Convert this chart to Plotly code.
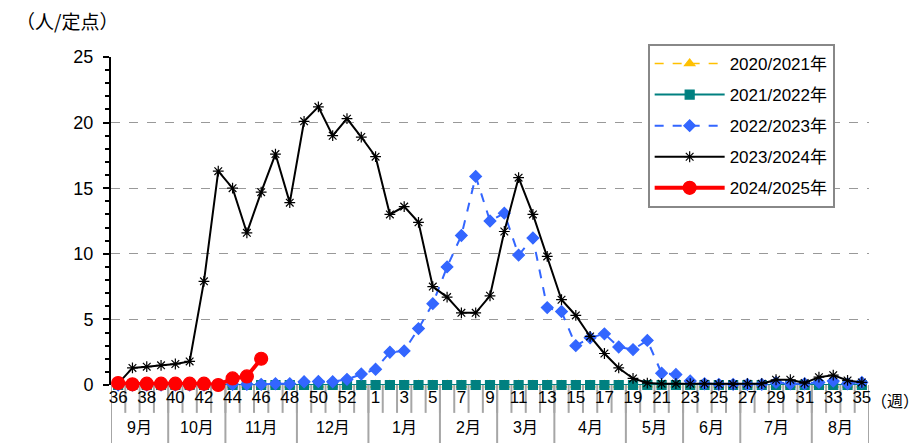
import plotly.graph_objects as go

weeks = [str(w) for w in list(range(36, 54)) + list(range(1, 36))]

s2020 = [0.0] * 53
s2021 = [0.0] * 53
s2022 = [0, 0, 0, 0, 0, 0, 0, 0, 0.05, 0.05, 0.05, 0.1, 0.1, 0.25, 0.27, 0.25, 0.43, 0.84,
         1.2, 2.5, 2.6, 4.3, 6.2, 9.0, 11.4, 15.9, 12.5, 13.1, 9.9, 11.2, 5.9, 5.6, 3.0, 3.6,
         3.9, 2.9, 2.7, 3.4, 0.9, 0.8, 0.3, 0.1, 0.05, 0.05, 0.05, 0.05, 0.2, 0.1, 0.1, 0.2,
         0.3, 0.1, 0.2]
s2023 = [0.1, 1.3, 1.4, 1.5, 1.6, 1.8, 7.9, 16.3, 15.0, 11.6, 14.7, 17.6, 13.9, 20.1, 21.2,
         19.0, 20.3, 18.9, 17.4, 13.0, 13.6, 12.4, 7.5, 6.7, 5.5, 5.5, 6.8, 11.7, 15.8, 13.0,
         9.8, 6.5, 5.3, 3.7, 2.4, 1.3, 0.5, 0.15, 0.1, 0.1, 0.1, 0.1, 0.05, 0.05, 0.1, 0.1,
         0.4, 0.4, 0.15, 0.6, 0.75, 0.35, 0.2]
s2024 = [0.15, 0.05, 0.1, 0.1, 0.1, 0.1, 0.1, 0.0, 0.5, 0.65, 2.0] + [None] * 42

season_names = ["2020/2021年", "2021/2022年", "2022/2023年", "2023/2024年", "2024/2025年"]

months = ["9月", "10月", "11月", "12月", "1月", "2月", "3月", "4月", "5月", "6月", "7月", "8月"]
month_weeks = [4, 4, 5, 5, 5, 4, 4, 5, 4, 4, 5, 4]

week_ticks = weeks[::2]

FONT = "Liberation Sans, Noto Sans CJK JP, sans-serif"
CJK = "Noto Sans CJK JP, sans-serif"

fig = go.Figure()

styles = [
    dict(data=s2020, color="#FFC000", dash="dash", width=1.5, symbol="triangle-up", size=9),
    dict(data=s2021, color="#008080", dash="solid", width=2, symbol="square", size=9),
    dict(data=s2022, color="#3366FF", dash="dash", width=2, symbol="diamond", size=9),
    dict(data=s2023, color="#000000", dash="solid", width=2, symbol="asterisk-open", size=9),
    dict(data=s2024, color="#FF0000", dash="solid", width=4, symbol="circle", size=13),
]

for i, (name, st) in enumerate(zip(season_names, styles)):
    fig.add_trace(go.Scatter(
        x=weeks, y=st["data"], name=name, mode="lines+markers",
        line=dict(color=st["color"], dash=st["dash"], width=st["width"]),
        marker=dict(symbol=st["symbol"], size=st["size"], color=st["color"],
                    line=dict(color=st["color"], width=1.2)),
        legendgroup=f"g{i}", cliponaxis=False,
    ))

shapes = []
for k in range(len(weeks) + 1):
    shapes.append(dict(type="line", xref="x", yref="paper", x0=k - 0.5, x1=k - 0.5,
                       y0=0, y1=-0.085, line=dict(color="#A6A6A6", width=2), layer="below"))
annotations = []
pos = 0
bounds = [0]
for m, n in zip(months, month_weeks):
    annotations.append(dict(x=pos + (n - 1) / 2, y=-0.131, xref="x", yref="paper",
                            text=m, showarrow=False, yanchor="middle",
                            font=dict(size=16, color="black", family=FONT)))
    pos += n
    bounds.append(pos)
for b in bounds:
    shapes.append(dict(type="line", xref="x", yref="paper", x0=b - 0.5, x1=b - 0.5,
                       y0=0, y1=-0.18, line=dict(color="#A6A6A6", width=2), layer="below"))

annotations.append(dict(x=-0.128, y=1.11, xref="paper", yref="paper", text="（人/定点）",
                        showarrow=False, xanchor="left", yanchor="middle",
                        font=dict(size=19, color="black", family=CJK)))
annotations.append(dict(x=1.0, y=-0.046, xref="paper", yref="paper", text="（週）",
                        showarrow=False, xanchor="left", yanchor="middle",
                        font=dict(size=16, color="black", family=CJK)))

fig.update_layout(
    width=913, height=435,
    margin=dict(l=103, r=52, t=49, b=58, autoexpand=False),
    paper_bgcolor="white", plot_bgcolor="white",
    font=dict(family=FONT, size=16, color="black"),
    showlegend=True,
    legend=dict(x=0.708, y=1.04, xanchor="left", yanchor="top",
                bgcolor="white", bordercolor="#888888", borderwidth=2,
                font=dict(size=17, family=FONT), traceorder="grouped",
                tracegroupgap=6, itemwidth=70),
    shapes=shapes, annotations=annotations,
    xaxis=dict(type="category", categoryorder="array", categoryarray=weeks,
               range=[-0.5, 52.5], tickmode="array", tickvals=week_ticks,
               ticktext=week_ticks, ticks="", showgrid=False, zeroline=False,
               showline=False, tickfont=dict(size=17), fixedrange=True, automargin=False),
    yaxis=dict(range=[0, 25], tickvals=[0, 5, 10, 15, 20, 25], showgrid=True,
               gridcolor="#999999", griddash="dash", gridwidth=1,
               showline=True, linecolor="black", linewidth=2,
               ticks="outside", ticklen=6, tickwidth=2, tickcolor="black",
               minor=dict(dtick=1, ticks="outside", ticklen=4, tickcolor="black", tickwidth=2,
                          showgrid=False),
               ticklabelstandoff=6,
               zeroline=False, tickfont=dict(size=18), fixedrange=True, automargin=False),
)

fig.write_html("out.html")
